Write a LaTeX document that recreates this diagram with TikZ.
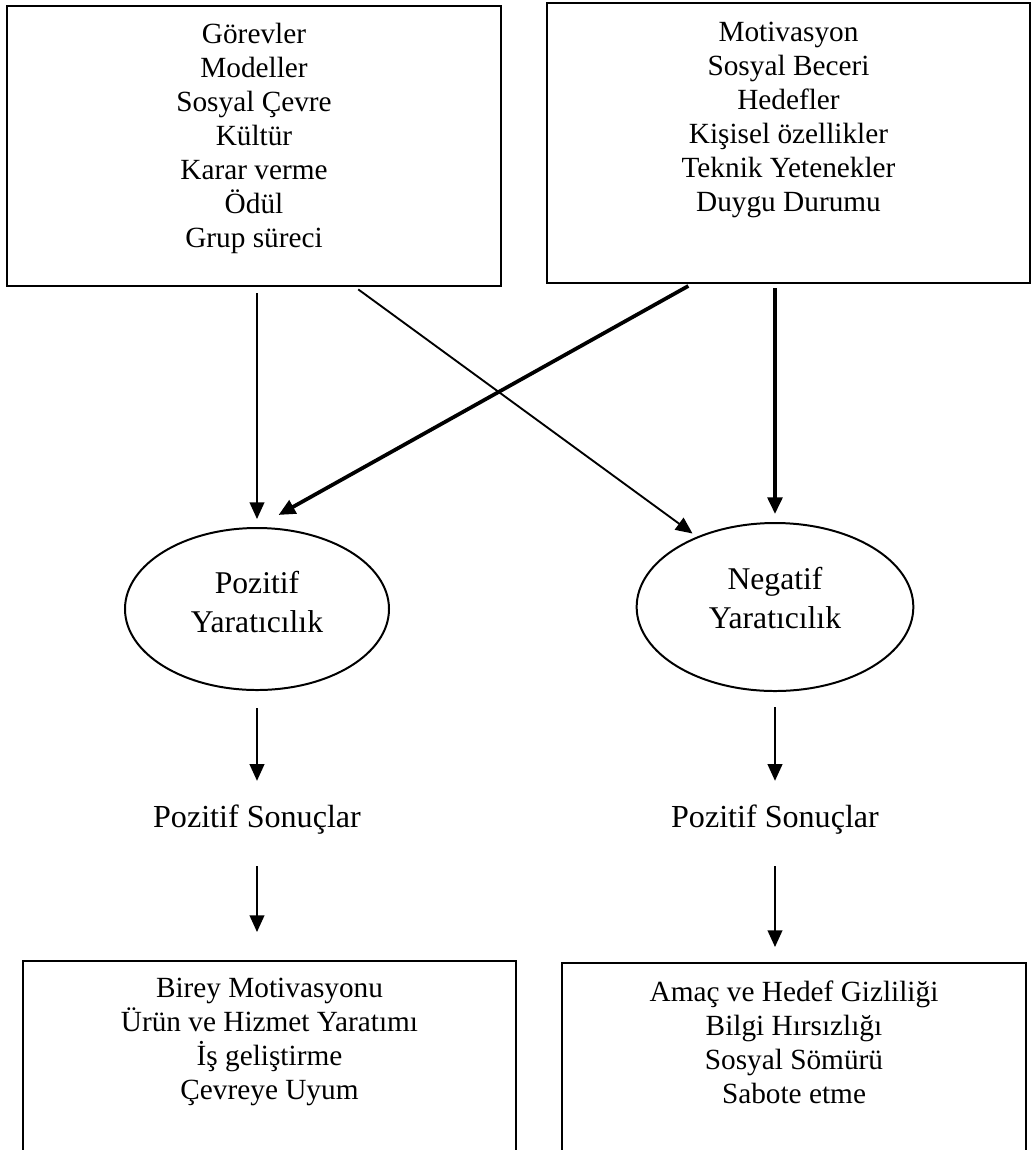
\documentclass[tikz,border=0pt]{standalone}
\usepackage{fontspec}
\setmainfont{Liberation Serif}
\usetikzlibrary{arrows.meta,positioning,shapes.geometric}

\begin{document}
\begin{tikzpicture}[x=0.15mm,y=-0.15mm,>={Triangle[length=2.5mm,width=2.2mm]},
    kutu/.style={draw,line width=0.85pt,inner sep=0pt},
    liste/.style={align=center,inner sep=0pt,font=\fontsize{12.5}{14.5}\selectfont},
    elips/.style={draw,ellipse,line width=0.85pt},
    yazi/.style={align=center,inner sep=0pt,font=\fontsize{13.5}{16.6}\selectfont},
    sonuc/.style={inner sep=0pt,font=\fontsize{13.7}{16}\selectfont},
    ince/.style={->,line width=0.8pt},
    kalin/.style={->,line width=1.6pt}]
    \useasboundingbox (0,0) rectangle (1032,1150);
    \clip (0,0) rectangle (1032,1150);
    \node[kutu,minimum width=74.1mm,minimum height=42mm] (gorevler) at (254,146) {};
    \node[liste,below=2.7mm of gorevler.north] (gorevlerliste) {Görevler\\Modeller\\Sosyal Çevre\\Kültür\\Karar verme\\Ödül\\Grup süreci};
    \node[kutu,minimum width=72.45mm,minimum height=42mm] (bireysel) at (788.5,143) {};
    \node[liste,below=3mm of bireysel.north] (bireyselliste) {Motivasyon\\Sosyal Beceri\\Hedefler\\Kişisel özellikler\\Teknik Yetenekler\\Duygu Durumu};
    \node[elips,minimum width=39.6mm,minimum height=24.3mm] (pozitif) at (257,609) {};
    \node[yazi] (pozitifyazi) at ([yshift=1mm]pozitif.center) {Pozitif\\Yaratıcılık};
    \node[elips,minimum width=41.5mm,minimum height=25.2mm] (negatif) at (775,607) {};
    \node[yazi] (negatifyazi) at ([yshift=1.4mm]negatif.center) {Negatif\\Yaratıcılık};
    \node[sonuc] (psonuc) at (257,820) {Pozitif Sonuçlar};
    \node[sonuc] (nsonuc) at (775,820) {Pozitif Sonuçlar};
    \node[kutu,minimum width=73.95mm,minimum height=30mm] (pcikti) at (269.5,1061) {};
    \node[liste,below=2.7mm of pcikti.north] (pciktiliste) {Birey Motivasyonu\\Ürün ve Hizmet Yaratımı\\İş geliştirme\\Çevreye Uyum};
    \node[kutu,minimum width=69.6mm,minimum height=30mm] (ncikti) at (794,1063) {};
    \node[liste,below=2.7mm of ncikti.north] (nciktiliste) {Amaç ve Hedef Gizliliği\\Bilgi Hırsızlığı\\Sosyal Sömürü\\Sabote etme};

    \draw[ince,shorten <=0.9mm,shorten >=1.2mm] (pozitif.north |- gorevler.south) -- (pozitif.north);
    \draw[ince,shorten <=0.6mm,shorten >=0.8mm] ([xshift=15.15mm]gorevler.south) -- (negatif.138);
    \draw[kalin,shorten <=0.6mm,shorten >=3.7mm] ([xshift=-14.5mm]bireysel.south) -- (pozitif.north);
    \draw[kalin,shorten <=0.6mm,shorten >=1.2mm] (negatif.north |- bireysel.south) -- (negatif.north);
    \draw[ince,shorten <=2.55mm,shorten >=3.6mm] (pozitif.south) -- (psonuc.north);
    \draw[ince,shorten <=2.25mm,shorten >=3.6mm] (negatif.south) -- (nsonuc.north);
    \draw[ince,shorten <=4.65mm,shorten >=4.2mm] (psonuc.south) -- (psonuc.south |- pcikti.north);
    \draw[ince,shorten <=4.65mm,shorten >=2.25mm] (nsonuc.south) -- (nsonuc.south |- ncikti.north);
\end{tikzpicture}
\end{document}
